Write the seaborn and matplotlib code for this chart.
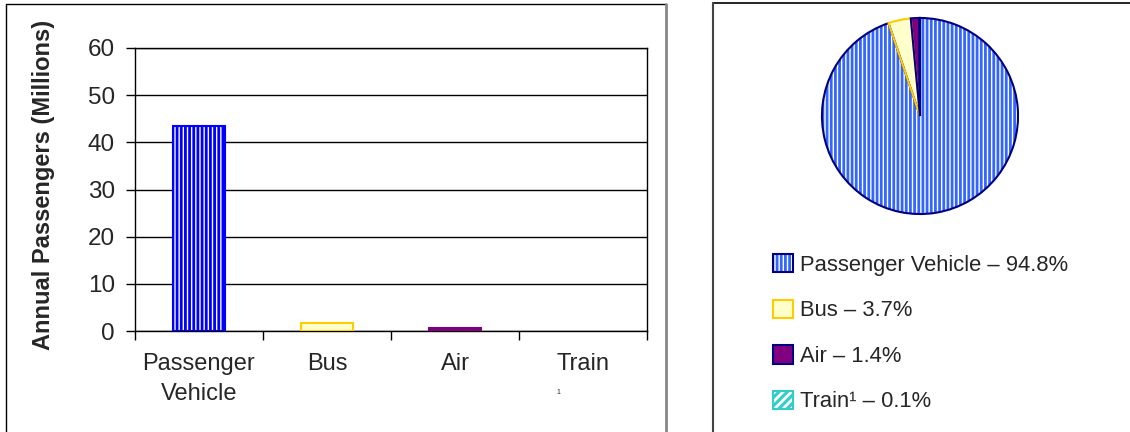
import matplotlib
matplotlib.use("Agg")
import matplotlib.pyplot as plt
from matplotlib.patches import Patch
from matplotlib.lines import Line2D
from matplotlib.legend_handler import HandlerTuple
import seaborn as sns

# Annual passengers by mode (millions) and share of total (%)
categories = ["Passenger\nVehicle", "Bus", "Air", "Train"]
passengers_millions = [43.4, 1.7, 0.64, 0.05]
share_labels = ["Passenger Vehicle", "Bus", "Air", "Train\u00b9"]
share_pct = [94.8, 3.7, 1.4, 0.1]
y_ticks = [0, 10, 20, 30, 40, 50, 60]

sns.set_style("white")
plt.rcParams["font.family"] = ["Liberation Sans", "DejaVu Sans"]
plt.rcParams["hatch.linewidth"] = 2.0

BLUE = "#3366FF"
NAVY = "#000080"
fills = ["white", "#FFFFCC", "#800080", "#33CCCC"]
bar_edges = ["#0000FF", "#FFCC00", "#800080", "#33CCCC"]
bar_edge_widths = [1.5, 1.5, 1.5, 0]
pie_edges = [NAVY, "#FFCC00", NAVY, NAVY]
hatches = ["||||", None, None, "////"]
hatch_colors = [BLUE, None, None, "white"]

fig = plt.figure(figsize=(11.3, 4.32), dpi=100)
W, H = 1130, 432

def fx(px):
    return px / W

def fy(py):
    return 1 - py / H

# ---- bar chart ----
ax = fig.add_axes([fx(135), fy(331), fx(647) - fx(135), fy(48) - fy(331)])
sns.barplot(x=categories, y=passengers_millions, hue=categories,
            palette=fills, legend=False, width=0.41, ax=ax, saturation=1)
for bar, ec, lw, h in zip(ax.patches, bar_edges, bar_edge_widths, hatches):
    bar.set_edgecolor(ec)
    bar.set_linewidth(lw)
    bar.set_zorder(3)
    if h:
        bar.set_hatch(h)

ax.set_ylim(0, 60)
ax.set_xlim(-0.5, 3.5)
ax.set_yticks(y_ticks)
ax.set_xticks(range(len(categories)))
ax.set_xticks([i - 0.5 for i in range(len(categories) + 1)], minor=True)
ax.set_xticklabels(categories, linespacing=1.5)
ax.tick_params(axis="x", which="major", length=0, pad=15.5, labelsize=17)
ax.tick_params(axis="x", which="minor", length=6.5, width=1, color="black",
               direction="out", bottom=True)
ax.tick_params(axis="y", length=6.5, width=1, color="black", direction="out",
               left=True, pad=8, labelsize=17.5)
ax.yaxis.grid(True, color="black", linewidth=1)
ax.set_axisbelow(True)
for s in ax.spines.values():
    s.set_visible(True)
    s.set_color("black")
    s.set_linewidth(1)
ax.set_xlabel("")
ax.set_ylabel("")
fig.text(fx(44), fy(185), "Annual Passengers (Millions)", rotation=90,
         ha="center", va="center", fontsize=17, fontweight="bold")
ax.annotate("1", xy=(3, 0), xycoords=ax.get_xaxis_transform(),
            xytext=(-19, -45), textcoords="offset points", fontsize=5)

# ---- pie chart ----
pax = fig.add_axes([fx(820), fy(216), fx(1020) - fx(820), fy(16) - fy(216)])
wedges, _ = pax.pie(share_pct, startangle=90, counterclock=False,
                    colors=fills, wedgeprops=dict(linewidth=0))
for w, h, hc in zip(wedges, hatches, hatch_colors):
    if h:
        w.set_edgecolor(hc)
        w.set_linewidth(0)
        w.set_hatch(h)
outline, _ = pax.pie(share_pct, startangle=90, counterclock=False,
                     colors=["none"] * 4,
                     wedgeprops=dict(linewidth=1.5, fill=False))
for w, ec in zip(outline, pie_edges):
    w.set_edgecolor(ec)
pax.set_xlim(-1.02, 1.02)
pax.set_ylim(-1.02, 1.02)
pax.set_aspect("equal")
pax.axis("off")

# ---- legend ----
handles = []
for f, ec, h, hc in zip(fills, pie_edges, hatches, hatch_colors):
    base = Patch(facecolor=f, edgecolor=hc if h else f, hatch=h, linewidth=0)
    edge = Patch(facecolor="none", edgecolor=ec if f != "#33CCCC" else f,
                 linewidth=1.5)
    handles.append((base, edge))
labels = [f"{n} \u2013 {p}%" for n, p in zip(share_labels, share_pct)]
fig.legend(handles, labels, handler_map={tuple: HandlerTuple(ndivide=1)},
           loc="upper left", bbox_to_anchor=(fx(773), fy(254)),
           frameon=False, fontsize=15.8, borderpad=0, borderaxespad=0,
           handlelength=0.92, handleheight=0.92, handletextpad=0.32,
           labelspacing=1.08)

# ---- panel frames ----
frame = [
    ((6, 666), (4, 4), "black", 1),
    ((6, 6), (4, 432), "black", 1),
    ((666, 666), (4, 432), "#888888", 2),
    ((713, 1130), (3, 3), "black", 1.2),
    ((713, 713), (3, 432), "#444444", 1.5),
]
for xs, ys, c, lw in frame:
    fig.add_artist(Line2D([fx(v) for v in xs], [fy(v) for v in ys],
                          transform=fig.transFigure, color=c, linewidth=lw))

fig.savefig("out.png", dpi=100, facecolor="white")
